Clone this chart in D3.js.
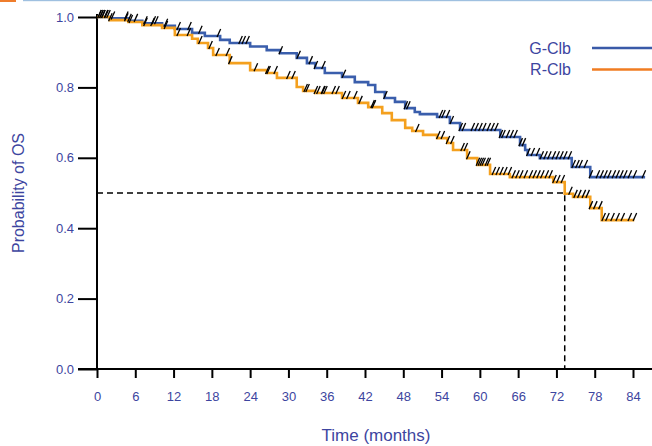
<!DOCTYPE html>
<html>
<head>
<meta charset="utf-8">
<script src="https://cdn.jsdelivr.net/npm/d3@7"></script>
<style>
  html, body { margin: 0; padding: 0; background: #fff; }
  svg { display: block; }
  text { font-family: "Liberation Sans", Arial, sans-serif; fill: #3d45a0; }
</style>
</head>
<body>
<svg id="chart" width="652" height="446"></svg>
<script>
// Kaplan-Meier overall survival, two arms

const xTicks = [0, 6, 12, 18, 24, 30, 36, 42, 48, 54, 60, 66, 72, 78, 84];
const yTicks = [0.0, 0.2, 0.4, 0.6, 0.8, 1.0];

// G-Clb: step start times (months) and survival from that time on
const gclbTime = [0, 2.0, 4.9, 7.1, 10.2, 12.2, 14.9, 16.9, 19.3, 20.8, 24.0, 26.6, 28.7, 31.3, 32.9,
  34.2, 35.7, 38.4, 40.4, 42.5, 43.6, 45.1, 46.7, 48.3, 49.8, 50.6, 53.3, 55.3, 56.9, 63.2,
  66.3, 67.1, 67.5, 69.4, 74.4, 77.3];
const gclbSurv = [1.0, 0.996, 0.989, 0.982, 0.975, 0.966, 0.955, 0.946, 0.935, 0.926, 0.916, 0.906, 0.897, 0.884, 0.869,
  0.855, 0.841, 0.830, 0.815, 0.807, 0.787, 0.770, 0.759, 0.741, 0.730, 0.724, 0.716, 0.699, 0.679, 0.659,
  0.636, 0.622, 0.608, 0.599, 0.574, 0.545];
const gclbEnd = 85.9;
const gclbCensor = [0.3, 0.6, 0.9, 1.3, 1.7, 2.4, 4.5, 5.0, 6.0, 7.5, 8.8, 9.2, 10.7, 12.7, 14.4, 16.1,
  19.0, 22.4, 22.9, 23.5, 28.7, 31.5, 33.4, 34.2, 35.4, 38.6, 45.1, 48.3, 48.7, 53.8, 54.2, 54.9,
  55.5, 56.9, 57.4, 58.8, 59.4, 60.0, 60.6, 61.3, 61.9, 62.5, 63.2, 63.6, 64.3, 64.9, 65.5, 66.3,
  66.8, 67.5, 68.2, 69.0, 69.6, 70.2, 70.8, 71.5, 72.1, 72.7, 73.3, 74.0, 74.6, 75.2, 75.7, 76.5,
  77.3, 78.4, 79.0, 79.6, 80.2, 80.9, 81.5, 82.1, 82.7, 83.4, 84.2, 85.6];

// R-Clb
const rclbTime = [0, 2.0, 4.9, 7.1, 10.2, 12.2, 14.9, 15.8, 17.4, 18.2, 20.8, 24.0, 26.6, 28.2, 31.3,
  32.3, 34.2, 38.4, 40.9, 42.5, 44.7, 46.2, 48.3, 49.4, 51.1, 53.3, 54.9, 55.8, 58.0, 59.6,
  61.6, 64.7, 71.5, 73.3, 74.6, 77.3, 79.1];
const rclbSurv = [1.0, 0.991, 0.986, 0.977, 0.969, 0.949, 0.938, 0.926, 0.912, 0.892, 0.869, 0.849, 0.841, 0.827, 0.801,
  0.790, 0.784, 0.770, 0.756, 0.744, 0.727, 0.707, 0.685, 0.676, 0.665, 0.656, 0.642, 0.622, 0.599, 0.580,
  0.554, 0.545, 0.531, 0.498, 0.489, 0.457, 0.423];
const rclbEnd = 84.2;
const rclbCensor = [0.3, 0.6, 0.9, 1.4, 2.0, 4.5, 5.2, 7.5, 8.6, 10.7, 12.7, 14.3, 16.1, 17.7, 18.8,
  20.4, 20.8, 24.8, 26.6, 26.8, 27.9, 29.9, 30.7, 32.6, 32.9, 34.2, 34.6, 35.3, 35.4, 35.7, 37.0,
  37.6, 38.6, 39.3, 40.4, 41.2, 43.1, 43.3, 50.1, 53.4, 54.1, 54.9, 55.6, 57.2, 57.7, 58.1, 59.6,
  59.9, 60.2, 60.5, 61.0, 61.3, 62.1, 62.7, 63.3, 63.9, 64.6, 65.2, 65.8, 66.4, 67.1, 67.9, 68.5,
  69.1, 69.7, 70.4, 71.0, 71.6, 72.2, 72.9, 74.1, 74.9, 75.5, 76.2, 76.8, 77.3, 78.0, 78.8, 79.3,
  79.9, 80.7, 81.5, 82.3, 83.4, 84.2];

const arms = [
  { name: "G-Clb", time: gclbTime, surv: gclbSurv, end: gclbEnd, censor: gclbCensor, color: "#3a5eac", legendColor: "#3a5aa8" },
  { name: "R-Clb", time: rclbTime, surv: rclbSurv, end: rclbEnd, censor: rclbCensor, color: "#f4a01e", legendColor: "#f07c22" }
];

const svg = d3.select("#chart");

// page header accents
svg.append("rect").attr("x", 0).attr("y", 0).attr("width", 16).attr("height", 2).attr("fill", "#ef7d2c");
svg.append("rect").attr("x", 23).attr("y", 0).attr("width", 629).attr("height", 1.2).attr("fill", "#9fc0e0");

const x = d3.scaleLinear().domain([0, 84]).range([97, 633]);
const y = d3.scaleLinear().domain([0, 1]).range([369, 17]);

// axes
const yAxis = svg.append("g").attr("transform", "translate(97,0)")
  .call(d3.axisLeft(y).tickValues(yTicks).tickFormat(d3.format(".1f")).tickSize(19).tickPadding(4));
const xAxis = svg.append("g").attr("transform", "translate(0,369)")
  .call(d3.axisBottom(x).tickValues(xTicks).tickFormat(d3.format("d")).tickSize(9).tickPadding(14));
[yAxis, xAxis].forEach(g => {
  g.select(".domain").remove();
  g.selectAll(".tick line").attr("stroke", "#000").attr("stroke-width", 2);
  g.selectAll(".tick text").attr("fill", "#3d45a0").style("font-size", "13px")
    .style("font-family", "'Liberation Sans', Arial, sans-serif");
});
svg.append("line").attr("x1", 97).attr("x2", 97).attr("y1", 14).attr("y2", 370)
  .attr("stroke", "#000").attr("stroke-width", 2);
svg.append("line").attr("x1", 78).attr("x2", 652).attr("y1", 369).attr("y2", 369)
  .attr("stroke", "#000").attr("stroke-width", 2);

// survival lookup
function survAt(arm, t) {
  let p = arm.surv[0];
  for (let i = 0; i < arm.time.length; i++) if (arm.time[i] <= t) p = arm.surv[i];
  return p;
}

// median line for R-Clb
const r = arms[1];
let medIdx = r.surv.findIndex(p => p <= 0.5);
const medT = r.time[medIdx];
svg.append("path")
  .attr("d", `M${x(0)},${y(0.5)}H${x(medT)}V${y(0)}`)
  .attr("fill", "none").attr("stroke", "#000").attr("stroke-width", 1.5)
  .attr("stroke-dasharray", "6,4");

// curves
const line = d3.line().x(d => x(d[0])).y(d => y(d[1])).curve(d3.curveStepAfter);
arms.forEach(arm => {
  const pts = arm.time.map((t, i) => [t, arm.surv[i]]);
  pts.push([arm.end, arm.surv[arm.surv.length - 1]]);
  svg.append("path").datum(pts).attr("d", line)
    .attr("fill", "none").attr("stroke", arm.color).attr("stroke-width", 2.6)
    .attr("stroke-linejoin", "miter");
});

// censoring marks
arms.forEach(arm => {
  svg.append("g").selectAll("line").data(arm.censor).join("line")
    .attr("x1", d => x(d) - 1.2).attr("y1", d => y(survAt(arm, d)) + 1)
    .attr("x2", d => x(d) + 2.4).attr("y2", d => y(survAt(arm, d)) - 7)
    .attr("stroke", "#000").attr("stroke-width", 1.3);
});

// legend
const legend = svg.append("g");
arms.forEach((arm, i) => {
  const ly = 48 + i * 21.5;
  legend.append("text").attr("x", 571).attr("y", ly).attr("dy", "0.35em")
    .attr("text-anchor", "end").style("font-size", "16px").text(arm.name);
  legend.append("line").attr("x1", 592).attr("x2", 652).attr("y1", ly).attr("y2", ly)
    .attr("stroke", arm.legendColor).attr("stroke-width", 2.6);
});

// axis titles
svg.append("text").attr("x", 376).attr("y", 435).attr("dy", "0.35em")
  .attr("text-anchor", "middle").style("font-size", "17px").text("Time (months)");
svg.append("text").attr("transform", "translate(18,193) rotate(-90)").attr("dy", "0.35em")
  .attr("text-anchor", "middle").style("font-size", "16px").text("Probability of OS");
</script>
</body>
</html>
